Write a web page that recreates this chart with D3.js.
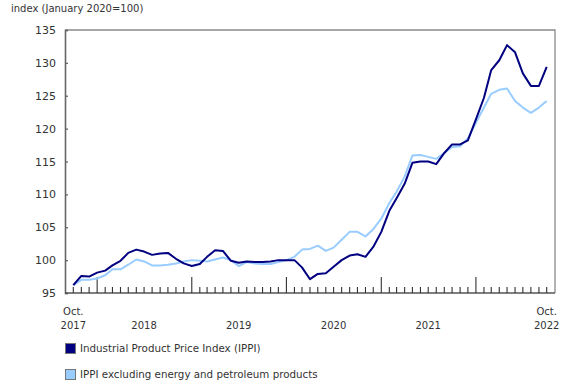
<!DOCTYPE html>
<html>
<head>
<meta charset="utf-8">
<script src="https://cdn.jsdelivr.net/npm/d3@7"></script>
<style>
body { margin: 0; background: #fff; }
svg text { font-family: "DejaVu Sans", Verdana, sans-serif; fill: #333; }
</style>
</head>
<body>
<div id="chart"></div>
<script>
// monthly, Oct 2017 .. Oct 2022
var startMonth = new Date(2017, 9, 1)
var ippi = [96.2, 97.6, 97.5, 98.1, 98.4, 99.2, 99.9, 101.1, 101.6, 101.3, 100.8, 101.0, 101.1,
	100.2, 99.5, 99.1, 99.4, 100.5, 101.5, 101.4, 99.9, 99.6, 99.8, 99.7, 99.7, 99.8, 100.0,
	100.0, 100.0, 98.9, 97.1, 97.9, 98.0, 99.0, 100.0, 100.7, 100.9, 100.5, 102.0, 104.3,
	107.5, 109.4, 111.6, 114.8, 115.0, 115.0, 114.6, 116.3, 117.6, 117.6, 118.2, 121.4,
	124.7, 128.9, 130.4, 132.7, 131.6, 128.4, 126.5, 126.5, 129.4]
var ippiExEnergy = [96.2, 97.0, 97.0, 97.2, 97.7, 98.6, 98.6, 99.3, 100.1, 99.8, 99.2, 99.2, 99.3,
	99.5, 99.8, 100.0, 99.9, 99.8, 100.1, 100.4, 100.0, 99.1, 99.7, 99.5, 99.4, 99.4, 99.7,
	100.0, 100.5, 101.6, 101.7, 102.2, 101.4, 101.9, 103.1, 104.3, 104.3, 103.6, 104.7, 106.3,
	108.7, 110.4, 112.7, 115.9, 116.0, 115.7, 115.4, 116.3, 117.2, 117.3, 118.5, 120.9,
	123.2, 125.3, 125.9, 126.1, 124.2, 123.2, 122.4, 123.2, 124.2]
var seriesNames = ["Industrial Product Price Index (IPPI)", "IPPI excluding energy and petroleum products"]
var seriesColors = ["#000080", "#99ccff"]
var yTicks = [95, 100, 105, 110, 115, 120, 125, 130, 135]
var yearLabels = ["2018", "2019", "2020", "2021"]
var yAxisTitle = "index (January 2020=100)"

var months = ippi.map((d, i) => new Date(startMonth.getFullYear(), startMonth.getMonth() + i, 1))

var W = 585, H = 390
var plot = {left: 65, right: 555, top: 30, bottom: 293}

var svg = d3.select("#chart").append("svg")
	.attr("width", W)
	.attr("height", H)

var x = d3.scaleTime()
	.domain([months[0], months[months.length - 1]])
	.range([73.3, 546.7])
var y = d3.scaleLinear()
	.domain([95, 135])
	.range([plot.bottom, plot.top])

// frame (top/right lighter)
svg.append("path")
	.attr("d", `M${plot.left},${plot.top}H${plot.right}V${plot.bottom}`)
	.attr("fill", "none")
	.attr("stroke", "#8a8a8a")
	.attr("stroke-width", 1.3)

// y axis
svg.append("g")
	.attr("transform", `translate(${plot.left},0)`)
	.call(d3.axisRight(y).tickValues(yTicks).tickSize(3).tickFormat(""))
	.call(g => g.select(".domain").attr("stroke", "#666").attr("stroke-width", 1.6))
	.call(g => g.selectAll(".tick line").attr("stroke", "#666").attr("stroke-width", 1.3))

yTicks.forEach(t =>
	svg.append("text")
		.attr("x", 56)
		.attr("y", y(t) + 4)
		.attr("text-anchor", "end")
		.style("font-size", "11px")
		.text(t)
)

svg.append("text")
	.attr("x", 11)
	.attr("y", 12)
	.style("font-size", "10px")
	.text(yAxisTitle)

// x axis ticks (inside, upward)
svg.append("line")
	.attr("x1", plot.left).attr("x2", plot.right)
	.attr("y1", plot.bottom).attr("y2", plot.bottom)
	.attr("stroke", "#555").attr("stroke-width", 1.6)

var xt = svg.append("g")
months.forEach(m => {
	var major = m.getMonth() == 0
	xt.append("line")
		.attr("x1", x(m)).attr("x2", x(m))
		.attr("y1", plot.bottom)
		.attr("y2", plot.bottom - (major ? 16 : 6))
		.attr("stroke", "#333")
		.attr("stroke-width", 1.1)
})

// x labels
function twoLine(xpos, l1, l2){
	var t = svg.append("text")
		.attr("text-anchor", "middle")
		.style("font-size", "10px")
	if (l1) t.append("tspan").attr("x", xpos).attr("y", 315).text(l1)
	t.append("tspan").attr("x", xpos).attr("y", 329).text(l2)
}
twoLine(x(months[0]), "Oct.", "2017")
twoLine(x(months[months.length - 1]), "Oct.", "2022")
yearLabels.forEach(yr => {
	twoLine(x(new Date(+yr, 6, 1)), null, yr)
})

// lines
var line = d3.line()
	.x((d, i) => x(months[i]))
	.y(d => y(d))

;[ippiExEnergy, ippi].forEach((s, k) => {
	var idx = k == 0 ? 1 : 0
	svg.append("path")
		.datum(s)
		.attr("fill", "none")
		.attr("stroke", seriesColors[idx])
		.attr("stroke-width", 2)
		.attr("stroke-linejoin", "round")
		.attr("d", line)
})

// legend
seriesNames.forEach((n, i) => {
	var ly = 343 + i * 26
	svg.append("rect")
		.attr("x", 65.5).attr("y", ly + 0.5)
		.attr("width", 10).attr("height", 10)
		.attr("fill", seriesColors[i])
		.attr("stroke", "#777")
	svg.append("text")
		.attr("x", 80)
		.attr("y", ly + 9)
		.style("font-size", "10.3px")
		.text(n)
})
</script>
</body>
</html>
